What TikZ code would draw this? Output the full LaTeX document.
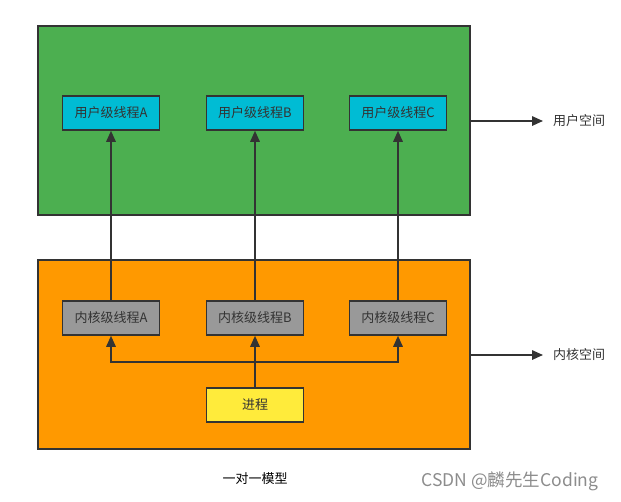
\documentclass[tikz,border=0pt]{standalone}
\usepackage{fontspec}
\setmainfont{Noto Sans CJK SC}
\usepackage{tikz}
\usetikzlibrary{arrows.meta,positioning}
\definecolor{SpaceGreen}{HTML}{4CAF50}
\definecolor{SpaceOrange}{HTML}{FF9900}
\definecolor{ThreadCyan}{HTML}{00BCD4}
\definecolor{ThreadGray}{HTML}{999999}
\definecolor{ProcYellow}{HTML}{FFEB3B}
\definecolor{LineGray}{HTML}{333333}
\tikzstyle{space} = [draw=LineGray,line width=1.6pt]
\tikzstyle{thread} = [draw=LineGray,line width=1.6pt,minimum width=97pt,minimum height=34pt,text=LineGray,font=\fontsize{13}{15}\selectfont,inner sep=0pt]
\tikzstyle{arrow} = [draw=LineGray,line width=1.6pt,-{Triangle[length=11pt,width=9.5pt]}]
\tikzstyle{spacelabel} = [anchor=west,inner sep=0pt,text=LineGray,font=\fontsize{13}{15}\selectfont]

\begin{document}
\begin{tikzpicture}[x=1pt,y=-1pt]
			\useasboundingbox (0,0) rectangle (621,501);
			
			\draw[space,fill=SpaceGreen] (38,26) rectangle (470,215);
			\draw[space,fill=SpaceOrange] (38,260) rectangle (470,449);
			\coordinate (user) at (470,121);
			\coordinate (kernel) at (470,355);
			
			\node[thread,fill=ThreadCyan] (uA) at (111,113) {用户级线程A};
			\node[thread,fill=ThreadCyan] (uB) at (255,113) {用户级线程B};
			\node[thread,fill=ThreadCyan] (uC) at (398,113) {用户级线程C};
			
			\node[thread,fill=ThreadGray] (kA) at (111,318) {内核级线程A};
			\node[thread,fill=ThreadGray] (kB) at (255,318) {内核级线程B};
			\node[thread,fill=ThreadGray] (kC) at (398,318) {内核级线程C};
			
			\node[thread,fill=ProcYellow] (proc) at (255,405) {进程};
			\coordinate (bus) at (255,362);
			
			\draw[arrow] (kA) -- (uA);
			\draw[arrow] (kB) -- (uB);
			\draw[arrow] (kC) -- (uC);
			
			\draw[arrow] (proc) -- (kB);
			\draw[arrow] (bus) -| (kA.south);
			\draw[arrow] (bus) -| (kC.south);
			
			\node[spacelabel] (ulabel) at (553,121) {用户空间};
			\node[spacelabel] (klabel) at (553,355) {内核空间};
			\draw[arrow,shorten >=10pt] (user) -- (ulabel.west);
			\draw[arrow,shorten >=10pt] (kernel) -- (klabel.west);
			
			\node[font=\fontsize{13}{15}\selectfont] (caption) at (255,479) {一对一模型};
			\node[font=\fontsize{17.5}{19}\selectfont,text=black!45] (mark) at (510,481) {CSDN @麟先生Coding};
			
\end{tikzpicture}
\end{document}
